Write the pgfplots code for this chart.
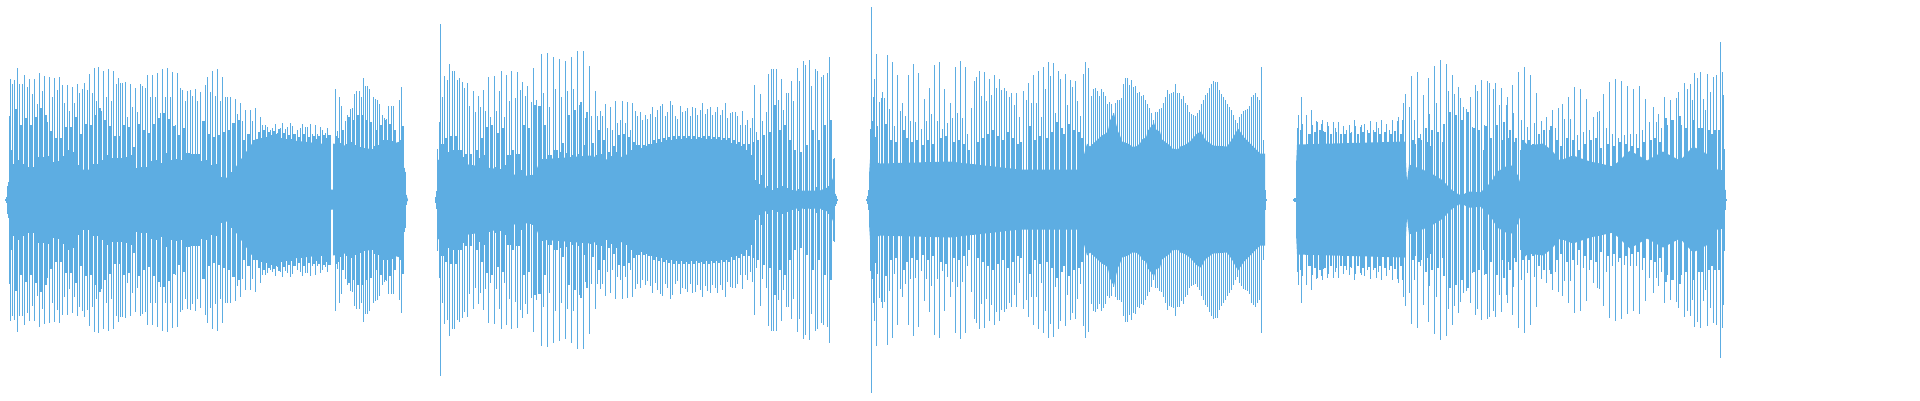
\documentclass[border=0pt]{standalone}
\usepackage{pgfplots}
\usepackage{pgfplotstable}
\pgfplotsset{compat=1.18}
\definecolor{wave}{HTML}{5DADE2}

% one period of the waveform: spike, notch, spike, two-pixel block
\pgfplotstableread{
x t1 n t2 b
12 116 36 120 91
17 132 40 116 75
22 116 36 125 82
27 113 33 121 75
32 106 33 121 83
37 96 43 127 92
42 109 43 124 85
47 78 44 123 69
52 103 38 122 62
57 110 39 123 62
62 115 44 97 73
67 115 50 89 73
72 113 48 97 83
77 116 35 107 66
82 111 30 117 76
87 110 30 126 75
92 107 36 132 85
96 99 36 133 92
101 89 40 129 80
106 103 45 131 74
111 99 42 129 64
116 116 42 122 64
120 117 42 117 75
125 118 43 83 73
130 116 45 93 53
135 112 32 88 76
140 116 33 114 70
145 112 33 125 67
150 103 39 125 76
155 103 40 127 82
160 87 37 131 87
165 103 47 132 81
170 103 40 128 74
175 75 41 127 65
180 112 40 110 72
185 99 47 109 47
190 110 46 104 46
195 111 46 99 46
200 108 39 79 79
205 115 40 123 66
210 108 35 129 63
215 104 36 131 65
220 99 23 123 68
225 103 20 103 70
230 103 28 77 77
235 101 33 86 80
240 97 40 79 60
245 90 46 66 66
250 90 54 79 60
255 92 60 59 68
260 83 62 75 70
265 75 63 73 68
270 70 65 72 69
275 76 66 67 71
280 72 62 77 67
285 71 61 73 65
290 77 61 74 66
295 66 58 70 63
300 72 58 76 66
305 73 56 73 63
310 76 55 66 64
315 75 61 66 64
320 73 56 70 65
325 67 62 72 65
335 111 64 69 62
339 103 57 94 70
345 79 56 85 83
350 91 58 92 80
354 106 55 109 85
359 109 53 103 85
363 122 51 114 80
367 114 49 111 78
373 103 54 101 70
377 100 55 96 75
382 85 60 82 80
386 81 60 94 76
391 94 59 94 70
399 100 60 113 74
442 103 56 124 62
447 120 48 136 64
452 129 50 129 64
457 120 50 122 50
462 118 43 112 46
467 117 33 94 46
473 109 31 88 50
478 104 42 93 62
483 110 45 89 73
488 123 32 83 75
494 124 33 89 67
499 109 31 129 72
504 83 35 125 45
509 99 45 129 50
515 102 46 128 46
520 110 30 118 75
525 104 23 114 72
531 98 25 132 95
536 100 25 94 94
541 146 41 107 75
547 147 45 93 45
553 143 50 111 50
559 141 48 103 57
565 139 47 109 85
571 143 45 111 90
577 149 46 95 98
583 149 55 82 88
589 134 44 84 57
595 109 45 84 70
600 89 46 84 60
605 96 40 72 48
610 93 44 70 54
615 99 48 77 65
620 80 42 99 66
625 77 45 98 63
630 70 50 97 58
635 89 55 84 55
640 88 52 80 55
645 85 54 81 56
650 86 56 93 60
655 83 57 90 61
660 94 58 96 62
665 84 60 88 63
670 99 60 95 64
675 84 61 81 64
680 94 61 88 64
685 89 62 92 64
690 84 61 93 64
695 92 61 85 63
700 90 62 97 64
705 86 61 91 64
710 93 61 85 63
715 88 61 93 63
720 85 60 90 62
725 97 60 82 62
730 87 57 88 60
735 88 56 84 58
740 75 54 89 56
745 75 50 80 56
750 72 45 82 58
754 115 20 68 60
760 106 25 79 65
766 88 14 126 68
771 131 10 131 95
776 131 12 100 70
781 121 14 90 75
786 107 12 107 60
791 119 10 99 50
797 132 11 119 48
803 139 9 135 55
809 140 9 114 70
815 131 13 129 60
821 123 10 125 75
827 127 14 143 80
}\rows

% single spikes, clip edges and the parts where the rhythm changes
\pgfplotstableread{
x h
5 1
6 3
7 14
8 18
9 84
10 121
11 50
330 65
400 60
403 73
404 32
405 28
406 5
407 1
435 3
436 9
437 51
438 27
439 78
440 176
441 56
833 41
834 42
835 6
836 4
837 1
866 1
867 4
868 10
869 24
870 71
871 193
872 79
873 103
874 121
875 63
876 146
877 74
879 98
881 102
882 108
884 102
887 145
889 91
892 138
894 74
897 125
900 89
902 97
905 84
908 125
910 79
913 136
915 78
918 127
921 71
924 101
926 79
929 112
931 86
934 135
937 79
939 138
942 71
944 111
947 77
950 97
952 82
955 133
957 87
960 139
962 82
965 133
967 66
971 92
974 119
976 123
979 129
981 104
984 128
986 99
989 121
991 105
994 125
996 112
999 121
1001 110
1004 112
1006 109
1009 103
1011 107
1014 95
1016 107
1019 83
1023 109
1026 100
1028 117
1031 97
1033 125
1036 97
1038 129
1041 83
1043 133
1045 111
1048 138
1050 124
1053 137
1055 87
1058 129
1060 121
1065 126
1067 95
1070 120
1072 113
1075 119
1077 99
1080 84
1083 126
1085 138
1088 132
1091 104
1093 111
1095 112
1097 109
1099 104
1101 111
1103 108
1105 104
1107 96
1109 98
1111 96
1113 87
1115 97
1117 100
1119 100
1121 102
1123 116
1125 122
1127 122
1129 115
1131 120
1133 113
1135 114
1137 107
1139 108
1141 104
1143 105
1145 100
1147 96
1149 92
1151 87
1153 80
1155 88
1157 88
1159 91
1161 92
1163 97
1165 103
1167 110
1169 106
1171 107
1173 108
1175 116
1177 107
1179 107
1181 101
1183 104
1185 97
1187 95
1189 88
1191 86
1193 85
1195 84
1197 87
1199 90
1201 96
1203 100
1205 105
1207 107
1209 112
1211 116
1213 119
1215 118
1217 118
1219 110
1221 106
1223 103
1225 100
1227 96
1229 93
1231 90
1233 85
1235 80
1237 77
1239 83
1241 86
1243 89
1245 90
1247 91
1249 94
1251 103
1253 105
1255 107
1257 103
1259 100
1261 133
1263 60
1265 10
1266 1
1293 1
1294 2
1295 2
1296 34
1297 72
1298 85
1299 33
1300 70
1301 103
1302 76
1306 85
1308 66
1311 90
1312 75
1314 66
1316 79
1317 78
1319 69
1321 76
1322 80
1323 69
1327 78
1328 74
1333 78
1335 72
1338 78
1343 74
1346 70
1349 75
1351 68
1354 80
1355 74
1360 73
1361 75
1364 76
1367 70
1370 79
1373 70
1376 78
1378 72
1381 80
1386 76
1389 70
1392 80
1397 79
1398 83
1402 80
1403 97
1405 106
1409 93
1411 124
1414 80
1417 128
1420 66
1423 105
1428 122
1429 86
1434 134
1436 97
1440 140
1442 58
1446 136
1448 109
1452 125
1454 106
1458 113
1460 102
1463 93
1466 91
1470 103
1472 73
1475 115
1477 109
1481 120
1484 75
1487 119
1489 117
1493 111
1495 117
1499 95
1501 112
1506 95
1507 103
1512 115
1513 87
1518 128
1521 80
1524 133
1527 73
1530 125
1534 77
1536 107
1541 79
1546 83
1549 70
1552 90
1555 72
1558 92
1562 96
1564 81
1568 103
1570 81
1574 113
1577 65
1580 111
1583 68
1586 101
1589 70
1593 83
1597 88
1599 89
1603 106
1606 72
1609 118
1612 66
1615 121
1618 62
1621 119
1624 65
1627 114
1630 66
1633 111
1636 66
1639 114
1642 70
1645 101
1649 78
1653 93
1656 78
1658 86
1661 72
1664 103
1667 75
1670 100
1673 80
1676 102
1678 108
1681 75
1684 117
1687 111
1690 116
1692 100
1694 127
1697 122
1700 128
1703 101
1705 90
1707 126
1710 108
1713 123
1716 125
1720 158
1722 128
1723 105
1724 51
1725 10
1726 1
}\spikes

% two-pixel blocks for the third and fourth clip
\pgfplotstableread{
x h
886 76
891 60
896 58
904 70
907 62
912 58
917 60
923 55
928 60
933 56
941 62
946 64
954 58
959 60
964 56
969 50
978 58
983 62
988 66
993 70
998 64
1003 60
1008 68
1013 62
1018 56
1021 58
1030 74
1035 60
1040 64
1047 62
1052 68
1057 78
1062 72
1064 66
1069 76
1074 70
1079 68
1082 62
1310 66
1315 68
1320 70
1325 68
1331 66
1336 68
1341 66
1345 66
1350 67
1358 66
1363 68
1369 67
1375 68
1380 66
1385 68
1391 66
1395 69
1401 66
1413 60
1419 62
1426 72
1432 70
1438 68
1444 76
1450 88
1456 85
1462 80
1468 88
1474 72
1479 70
1486 74
1491 62
1497 75
1504 78
1510 70
1516 62
1523 60
1529 60
1533 56
1539 66
1544 70
1551 74
1557 60
1561 54
1567 62
1573 60
1579 50
1585 56
1591 60
1596 62
1601 52
1608 56
1614 54
1620 58
1626 56
1632 54
1638 52
1644 58
1651 60
1655 62
1660 58
1666 82
1672 80
1680 84
1686 72
1693 80
1699 72
1702 72
1709 70
1712 66
1715 70
1719 70
}\blocks

% three-pixel beds between the spikes where the core of the fourth clip is thin
\pgfplotstableread{
x h
1414 56
1420 60
1426 58
1431 54
1437 52
1443 50
1449 54
1455 58
1461 55
1467 52
1473 54
1478 56
1484 50
1490 48
1496 56
1502 60
1509 62
1515 58
1521 50
}\bed

% solid core of each clip, closed to the centre line
\pgfplotstableread{
x h
9 0
9 30
219 30
220 22
229 22
234 30
245 46
255 60
265 62
330 55
331 10
333 10
333 56
345 54
375 50
400 58
404 32
405 28
406 5
408 0
437 0
437 40
500 30
520 23
535 25
540 40
590 44
605 40
620 42
650 55
680 60
720 60
745 50
752 20
770 9
820 9
830 13
834 25
835 6
836 4
837 0
869 0
869 24
870 40
880 36
950 38
1020 30
1080 30
1087 56
1090 53
1102 64
1106 66
1108 69
1110 79
1112 83
1114 87
1116 76
1118 68
1120 64
1122 58
1128 56
1132 53
1136 53
1140 56
1142 60
1146 62
1148 69
1152 74
1154 77
1156 70
1160 68
1162 60
1166 57
1170 54
1172 51
1178 50
1180 53
1184 54
1190 58
1197 66
1201 68
1205 60
1213 54
1227 53
1232 60
1238 71
1244 62
1250 56
1260 46
1265 46
1265 0
1296 0
1296 34
1297 55
1405 58
1406 36
1407 18
1409 35
1430 27
1443 19
1450 11
1457 6
1462 4
1468 8
1473 8
1480 7
1485 11
1492 19
1497 28
1503 31
1510 36
1518 24
1521 14
1524 58
1528 54
1543 56
1552 49
1560 39
1573 44
1590 38
1600 36
1613 33
1630 49
1647 39
1663 48
1680 39
1693 53
1710 44
1718 29
1720 29
1724 30
1725 10
1726 0
}\core

\begin{document}
\begin{tikzpicture}
  \path[use as bounding box] (0,0) rectangle (19.2cm,4cm);
  \begin{axis}[
    at={(0,0)},
    anchor=south west,
    scale only axis,
    width=19.2cm,
    height=4cm,
    hide axis,
    xmin=0, xmax=1920,
    ymin=-200.5, ymax=199.5,
    comb/.style={ycomb, mark=none, draw=wave, line width=0.13mm},
    block/.style={ycomb, mark=none, draw=wave, line width=0.22mm},
    wide/.style={ycomb, mark=none, draw=wave, line width=0.3mm}
  ]

  % core, clip by clip, with a centre line over the seam
  \pgfplotsinvokeforeach{0:420,420:850,850:1280,1280:1740}{
    \addplot[fill=wave, draw=none, restrict x to domain=#1] table[x=x, y=h] {\core} \closedcycle;
    \addplot[fill=wave, draw=none, restrict x to domain=#1] table[x=x, y expr=-\thisrow{h}] {\core} \closedcycle;
    \addplot[draw=wave, line width=0.1mm, mark=none, restrict x to domain=#1] table[x=x, y expr=0] {\core};
  }

  % blocks
  \addplot[block] table[x expr=\thisrow{x}+4, y=b] {\rows};
  \addplot[block] table[x expr=\thisrow{x}+4, y expr=-\thisrow{b}] {\rows};
  \addplot[block] table[x=x, y=h] {\blocks};
  \addplot[block] table[x=x, y expr=-\thisrow{h}] {\blocks};
  \addplot[wide] table[x=x, y=h] {\bed};
  \addplot[wide] table[x=x, y expr=-\thisrow{h}] {\bed};

  % notches
  \addplot[comb] table[x expr=\thisrow{x}+1.5, y=n] {\rows};
  \addplot[comb] table[x expr=\thisrow{x}+1.5, y expr=-\thisrow{n}] {\rows};

  % spikes
  \addplot[comb] table[x expr=\thisrow{x}+0.5, y=t1] {\rows};
  \addplot[comb] table[x expr=\thisrow{x}+0.5, y expr=-\thisrow{t1}] {\rows};
  \addplot[comb] table[x expr=\thisrow{x}+2.5, y=t2] {\rows};
  \addplot[comb] table[x expr=\thisrow{x}+2.5, y expr=-\thisrow{t2}] {\rows};
  \addplot[comb] table[x expr=\thisrow{x}+0.5, y=h] {\spikes};
  \addplot[comb] table[x expr=\thisrow{x}+0.5, y expr=-\thisrow{h}] {\spikes};

  \end{axis}
\end{tikzpicture}
\end{document}
